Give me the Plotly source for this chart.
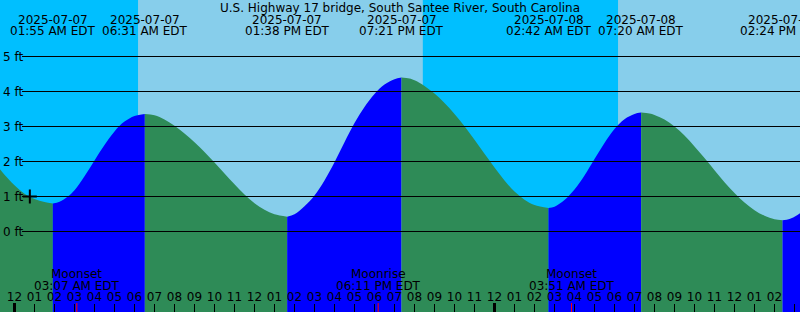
import plotly.graph_objects as go
from datetime import datetime

STATION = "U.S. Highway 17 bridge, South Santee River, South Carolina"

# tide curve readings (time, feet)
TIDE_TIMES = [
    "2025-07-06 23:10", "2025-07-06 23:30", "2025-07-07 00:00", "2025-07-07 00:30",
    "2025-07-07 01:00", "2025-07-07 01:30", "2025-07-07 01:55",
    "2025-07-07 02:15", "2025-07-07 02:40", "2025-07-07 03:00", "2025-07-07 03:30",
    "2025-07-07 04:00", "2025-07-07 04:30", "2025-07-07 05:00", "2025-07-07 05:30",
    "2025-07-07 06:00", "2025-07-07 06:31",
    "2025-07-07 07:00", "2025-07-07 07:30", "2025-07-07 08:00", "2025-07-07 08:30",
    "2025-07-07 09:00", "2025-07-07 09:30", "2025-07-07 10:00", "2025-07-07 10:30",
    "2025-07-07 11:00", "2025-07-07 11:30", "2025-07-07 12:00", "2025-07-07 12:30",
    "2025-07-07 13:00", "2025-07-07 13:38",
    "2025-07-07 14:00", "2025-07-07 14:30", "2025-07-07 15:00", "2025-07-07 15:30",
    "2025-07-07 16:00", "2025-07-07 16:30", "2025-07-07 17:00", "2025-07-07 17:30",
    "2025-07-07 18:00", "2025-07-07 18:30", "2025-07-07 19:00", "2025-07-07 19:21",
    "2025-07-07 19:45", "2025-07-07 20:00", "2025-07-07 20:30", "2025-07-07 21:00",
    "2025-07-07 21:30", "2025-07-07 22:00", "2025-07-07 22:30", "2025-07-07 23:00",
    "2025-07-07 23:30", "2025-07-08 00:00", "2025-07-08 00:30", "2025-07-08 01:00",
    "2025-07-08 01:30", "2025-07-08 02:00", "2025-07-08 02:42",
    "2025-07-08 03:00", "2025-07-08 03:30", "2025-07-08 04:00", "2025-07-08 04:30",
    "2025-07-08 05:00", "2025-07-08 05:30", "2025-07-08 06:00", "2025-07-08 06:30",
    "2025-07-08 07:00", "2025-07-08 07:20",
    "2025-07-08 07:45", "2025-07-08 08:00", "2025-07-08 08:30", "2025-07-08 09:00",
    "2025-07-08 09:30", "2025-07-08 10:00", "2025-07-08 10:30", "2025-07-08 11:00",
    "2025-07-08 11:30", "2025-07-08 12:00", "2025-07-08 12:30", "2025-07-08 13:00",
    "2025-07-08 13:30", "2025-07-08 14:00", "2025-07-08 14:24",
    "2025-07-08 14:45", "2025-07-08 15:00", "2025-07-08 15:30",
]
TIDE_FT = [
    1.86, 1.62, 1.32, 1.08,
    0.93, 0.84, 0.80,
    0.85, 1.00, 1.18, 1.58,
    2.03, 2.47, 2.86, 3.14,
    3.30, 3.36,
    3.32, 3.20, 3.02, 2.80,
    2.55, 2.27, 1.97, 1.66,
    1.35, 1.06, 0.81, 0.62,
    0.49, 0.42,
    0.49, 0.72, 1.03, 1.46,
    1.98, 2.55, 3.10, 3.56,
    3.93, 4.20, 4.35, 4.40,
    4.37, 4.32, 4.16, 3.94,
    3.67, 3.36, 3.01, 2.62,
    2.22, 1.83, 1.46, 1.14,
    0.91, 0.76, 0.67,
    0.71, 0.90, 1.20, 1.60,
    2.07, 2.53, 2.93, 3.21,
    3.36, 3.40,
    3.37, 3.33, 3.20, 3.00,
    2.74, 2.43, 2.10, 1.75,
    1.41, 1.10, 0.83, 0.61,
    0.45, 0.35, 0.32,
    0.36, 0.42, 0.62,
]

HILO_TIMES = ["2025-07-07 01:55", "2025-07-07 06:31", "2025-07-07 13:38",
              "2025-07-07 19:21", "2025-07-08 02:42", "2025-07-08 07:20",
              "2025-07-08 14:24"]

SUN_TIMES = ["2025-07-07 06:11", "2025-07-07 20:25", "2025-07-08 06:11"]

MOON_TIMES = ["2025-07-07 03:07", "2025-07-07 18:11", "2025-07-08 03:51"]
MOON_EVENTS = ["Moonset", "Moonrise", "Moonset"]

MIDNIGHTS = ["2025-07-07 00:00", "2025-07-08 00:00"]

FT_TICKS = [0, 1, 2, 3, 4, 5]
FT_LABELS = ["0 ft", "1 ft", "2 ft", "3 ft", "4 ft", "5 ft"]

MARK_TIME = ["2025-07-07 00:46"]
MARK_FT = [1.0]

X_RANGE = ["2025-07-06 23:16:30", "2025-07-08 15:16:30"]
Y_RANGE = [-2.3, 6.6143]

NIGHT = "#00BFFF"
DAY = "#87CEEB"
RISING = "#0000FF"
FALLING = "#2E8B57"
FONT = dict(family="DejaVu Sans", size=12, color="black")
W, H = 800, 312


def parse(s):
    return datetime.strptime(s, "%Y-%m-%d %H:%M")


fig = go.Figure()

# tide segments split at highs/lows
cuts = [0] + [TIDE_TIMES.index(t) for t in HILO_TIMES] + [len(TIDE_TIMES) - 1]
for a, b in zip(cuts[:-1], cuts[1:]):
    xs = TIDE_TIMES[a:b + 1]
    ys = TIDE_FT[a:b + 1]
    color = RISING if ys[-1] > ys[0] else FALLING
    fig.add_trace(go.Scatter(x=[xs[0], xs[-1]], y=[Y_RANGE[0] - 1] * 2, mode="lines",
                             line=dict(width=0), hoverinfo="skip", showlegend=False))
    fig.add_trace(go.Scatter(x=xs, y=ys, mode="lines", fill="tonexty", fillcolor=color,
                             line=dict(width=0, shape="spline", smoothing=1, color=color),
                             hoverinfo="skip", showlegend=False))

fig.add_trace(go.Scatter(x=MARK_TIME, y=MARK_FT, mode="markers",
                         marker=dict(symbol="cross-thin", size=10,
                                     line=dict(width=2, color="black")),
                         hoverinfo="skip", showlegend=False))

shapes = []
# day / night background
bounds = [X_RANGE[0]] + SUN_TIMES + [X_RANGE[1]]
for i in range(len(bounds) - 1):
    shapes.append(dict(type="rect", xref="x", yref="paper", x0=bounds[i], x1=bounds[i + 1],
                       y0=0, y1=1, fillcolor=NIGHT if i % 2 == 0 else DAY,
                       line=dict(width=0), layer="below"))
# horizontal reference lines
for v in FT_TICKS:
    shapes.append(dict(type="line", xref="paper", yref="y", x0=22 / W, x1=1, y0=v, y1=v,
                       line=dict(color="black", width=1), layer="above"))
# midnight ticks
for t in MIDNIGHTS:
    shapes.append(dict(type="line", xref="x", yref="paper", x0=t, x1=t, y0=0, y1=9 / H,
                       line=dict(color="black", width=3), layer="above"))
# moon event ticks
for t in MOON_TIMES:
    shapes.append(dict(type="line", xref="x", yref="paper", x0=t, x1=t, y0=0, y1=9 / H,
                       line=dict(color="red", width=1), layer="above"))

annotations = [dict(text=STATION, xref="paper", yref="paper", x=0.5, y=1 - 7.5 / H,
                    showarrow=False, font=FONT, xanchor="center", yanchor="middle")]
for v, lab in zip(FT_TICKS, FT_LABELS):
    annotations.append(dict(text=lab, xref="paper", yref="y", x=1 / W, y=v,
                            showarrow=False, font=FONT, xanchor="left", yanchor="middle"))
for t in HILO_TIMES:
    d = parse(t)
    annotations.append(dict(text=d.strftime("%Y-%m-%d"), xref="x", yref="paper", x=t,
                            y=1 - 19.5 / H, showarrow=False, font=FONT,
                            xanchor="center", yanchor="middle"))
    annotations.append(dict(text=d.strftime("%I:%M %p") + " EDT", xref="x", yref="paper",
                            x=t, y=1 - 31.3 / H, showarrow=False, font=FONT,
                            xanchor="center", yanchor="middle"))
for t, ev in zip(MOON_TIMES, MOON_EVENTS):
    d = parse(t)
    annotations.append(dict(text=ev, xref="x", yref="paper", x=t, y=1 - 273.8 / H,
                            showarrow=False, font=FONT, xanchor="center", yanchor="middle"))
    annotations.append(dict(text=d.strftime("%I:%M %p") + " EDT", xref="x", yref="paper",
                            x=t, y=1 - 286.2 / H, showarrow=False, font=FONT,
                            xanchor="center", yanchor="middle"))

fig.update_layout(
    width=W, height=H, margin=dict(l=0, r=0, t=0, b=0),
    paper_bgcolor=DAY, plot_bgcolor=DAY, font=FONT,
    shapes=shapes, annotations=annotations, showlegend=False,
    xaxis=dict(type="date", range=X_RANGE, showgrid=False, zeroline=False, showline=False,
               ticks="inside", ticklen=8, tickwidth=1, tickcolor="black",
               ticklabelposition="inside", tickformat="%I", dtick=3600000,
               tick0=MIDNIGHTS[0], tickfont=FONT),
    yaxis=dict(range=Y_RANGE, showgrid=False, zeroline=False, showline=False,
               showticklabels=False, ticks=""),
)

fig.write_html("out.html")
